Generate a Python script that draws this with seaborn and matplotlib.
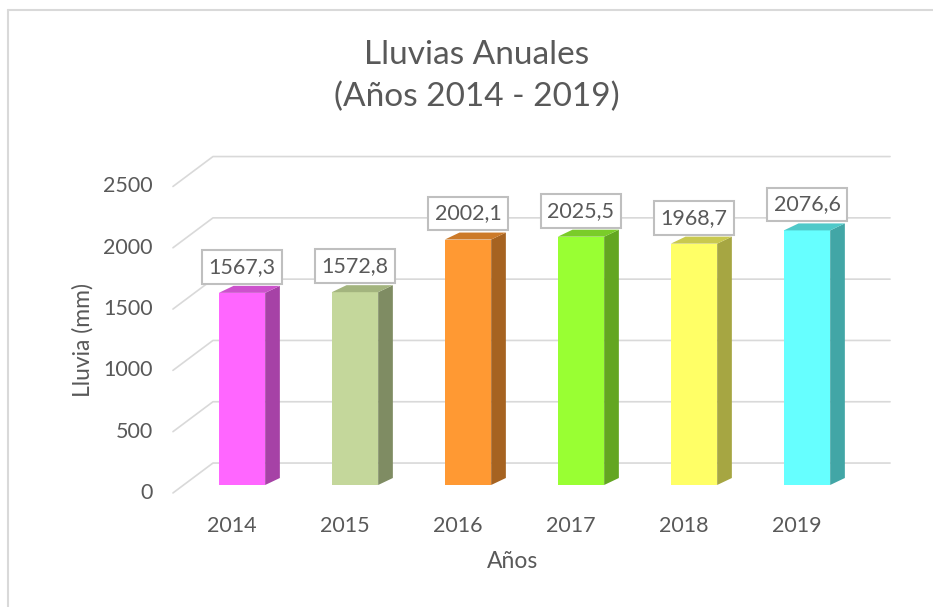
import numpy as np
import pandas as pd
import matplotlib.pyplot as plt
import matplotlib.transforms as mtransforms
from matplotlib.patches import Polygon
from matplotlib.lines import Line2D
import seaborn as sns

# data
years = ['2014', '2015', '2016', '2017', '2018', '2019']
rain_mm = [1567.3, 1572.8, 2002.1, 2025.5, 1968.7, 2076.6]
y_ticks = [0, 500, 1000, 1500, 2000, 2500]

front_colors = ['#FF66FF', '#C4D79B', '#FF9933', '#99FF33', '#FFFF66', '#66FFFF']
side_colors = ['#A642A6', '#7F8C63', '#A66321', '#63A621', '#A6A642', '#42A6A6']
top_colors = ['#CC52CC', '#A3B47E', '#CC7A29', '#7ACC29', '#C9C94F', '#4FC9C9']

df = pd.DataFrame({'Año': years, 'Lluvia': rain_mm})

sns.set_theme(style='white')
plt.rcParams['font.family'] = ['Lato', 'DejaVu Sans']
txt = '#595959'
grid_c = '#d9d9d9'

W, H = 933, 607
fig = plt.figure(figsize=(W / 100, H / 100), dpi=100)
fig.patch.set_facecolor('white')

# axes placed so that category step ~113 px and 500 mm ~61 px
ax = fig.add_axes([157.25 / W, 1 - 499.7 / H, (903.05 - 157.25) / W, (499.7 - 153.98) / H])
ax.set_facecolor('none')
for s in ax.spines.values():
    s.set_visible(False)

sns.barplot(data=df, x='Año', y='Lluvia', hue='Año', palette=front_colors,
            width=0.41, dodge=False, legend=False, saturation=1,
            linewidth=0, ax=ax, zorder=3)
ax.set_xlim(-0.75, 5.85)
ax.set_ylim(-120, 2700)

# pseudo 3D depth (data units)
wall_dy = 179      # back wall above bar plane
front_dy = -65     # front edge below bar plane
x_front, x_back, x_right = -0.611, -0.257, 5.735
bar_dx, bar_dy = 0.13, 57

for v in y_ticks:
    ax.plot([x_front, x_back, x_right], [v + front_dy, v + wall_dy, v + wall_dy],
            color=grid_c, lw=1.2, zorder=1, clip_on=False)
    ax.text(x_front - 0.18, v + front_dy, str(v), ha='right', va='center',
            fontsize=15.5, color=txt, clip_on=False)

for i, p in enumerate(ax.patches):
    x0, w, h = p.get_x(), p.get_width(), p.get_height()
    side = [(x0 + w, 0), (x0 + w + bar_dx, bar_dy), (x0 + w + bar_dx, h + bar_dy), (x0 + w, h)]
    top = [(x0, h), (x0 + w, h), (x0 + w + bar_dx, h + bar_dy), (x0 + bar_dx, h + bar_dy)]
    ax.add_patch(Polygon(side, closed=True, facecolor=side_colors[i], edgecolor='none', zorder=3))
    ax.add_patch(Polygon(top, closed=True, facecolor=top_colors[i], edgecolor='none', zorder=3))
    label = f'{rain_mm[i]:.1f}'.replace('.', ',')
    ax.text(x0 + w / 2, h + 212, label, ha='center', va='center', fontsize=15.5, color=txt,
            zorder=5, bbox=dict(boxstyle='square,pad=0.32', facecolor='white',
                                edgecolor='#bfbfbf', linewidth=1.5))

ax.set_xlabel('')
ax.set_ylabel('')
ax.set_yticks([])
ax.set_xticks(range(len(years)))
ax.set_xticklabels(years, fontsize=15.5, color=txt)
ax.tick_params(axis='x', length=0, pad=12)
shift = mtransforms.ScaledTranslation(-10 / 100, 0, fig.dpi_scale_trans)
for lab in ax.get_xticklabels():
    lab.set_transform(lab.get_transform() + shift)

fig.text(83 / W, 1 - 340 / H, 'Lluvia (mm)', rotation=90, ha='center', va='center',
         fontsize=16.5, color=txt)
fig.text(513 / W, 1 - 562 / H, 'Años', ha='center', va='center', fontsize=16.5, color=txt)
fig.text(477 / W, 1 - 55 / H, 'Lluvias Anuales', ha='center', va='center', fontsize=24, color=txt)
fig.text(477 / W, 1 - 97 / H, '(Años 2014 - 2019)', ha='center', va='center', fontsize=24, color=txt)

# chart frame (top and left edges visible)
fig.add_artist(Line2D([8 / W, 8 / W], [0, 1 - 10 / H], color=grid_c, lw=1.5, transform=fig.transFigure))
fig.add_artist(Line2D([8 / W, 1], [1 - 10 / H, 1 - 10 / H], color=grid_c, lw=1.5, transform=fig.transFigure))

fig.savefig('out.png', dpi=100)
